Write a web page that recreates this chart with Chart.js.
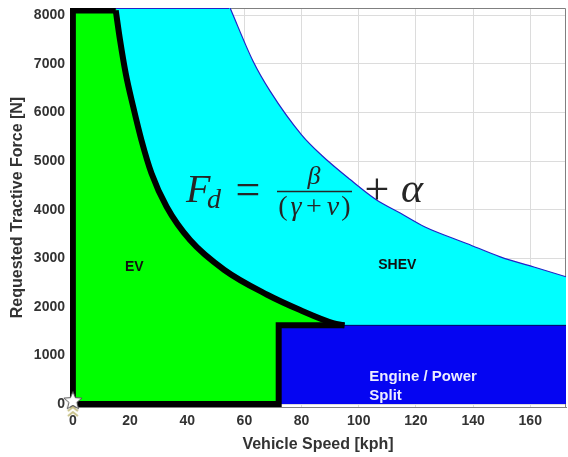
<!DOCTYPE html>
<html><head><meta charset="utf-8">
<script src="https://cdn.jsdelivr.net/npm/chart.js@4"></script>
<style>html,body{margin:0;padding:0;background:#fff}#wrap{width:568px;height:457px}</style>
</head><body><div id="wrap"><canvas id="c" width="568" height="457"></canvas></div>
<script>
// ---- data ----
const xTicks = [0, 20, 40, 60, 80, 100, 120, 140, 160];
const yTicks = [0, 1000, 2000, 3000, 4000, 5000, 6000, 7000, 8000];

// EV boundary (thick black curve)
const evCapX = [0, 15];
const evCapY = 8100;
const evCurveX = [15, 16.5, 18.5, 21.1, 24, 27.5, 32.8, 41, 53, 68, 79.5, 91, 95];
const evCurveY = [8100, 7490, 6800, 6120, 5430, 4750, 4060, 3375, 2760, 2250, 1935, 1667, 1620];

// Engine / Power split block
const splitX = [72, 172.5];
const splitY = 1620;

// SHEV upper limit F_d = beta/(gamma+v)+alpha
const shevCapX = [0, 55];
const shevCapY = 8150;
const shevCurveX = [55, 63, 69, 80, 87, 97, 106, 114.5, 123, 138, 149.5, 161, 172.5];
const shevCurveY = [8150, 7060, 6440, 5540, 5120, 4620, 4210, 3930, 3650, 3300, 3030, 2825, 2620];

const startPoint = [0, 0];

const pts = (xs, ys) => xs.map((x, i) => ({x, y: Array.isArray(ys) ? ys[i] : ys}));
// cap block: top edge, then straight down to the axis so the fill joins the curve fill seamlessly
const capPts = (xs, y) => [{x: xs[0], y}, {x: xs[1], y}, {x: xs[1], y: 0}];

// star marker image
const starImg = document.createElement('canvas');
starImg.width = 26; starImg.height = 30;
(function(){
  const g = starImg.getContext('2d');
  g.strokeStyle = '#c9c28a'; g.lineWidth = 2;
  for (const dy of [18, 23]) {
    g.beginPath(); g.moveTo(8, dy + 4); g.lineTo(13, dy); g.lineTo(18, dy + 4); g.stroke();
  }
  const cx = 13, cy = 12, R = 9.5, r = 4.2;
  g.beginPath();
  for (let i = 0; i < 10; i++) {
    const a = -Math.PI / 2 + i * Math.PI / 5;
    const rad = i % 2 ? r : R;
    const px = cx + rad * Math.cos(a), py = cy + rad * Math.sin(a);
    i ? g.lineTo(px, py) : g.moveTo(px, py);
  }
  g.closePath();
  g.fillStyle = '#ffffff'; g.fill();
  g.strokeStyle = '#555'; g.lineWidth = 1; g.stroke();
})();

const blackOutline = [
  {x: evCurveX[evCurveX.length - 1], y: splitY},
  {x: splitX[0], y: splitY},
  {x: splitX[0], y: 0},
  {x: 0, y: 0},
  {x: 0, y: evCapY},
  {x: evCapX[1], y: evCapY}
];

const boxPlugin = {
  id: 'box',
  beforeDatasetsDraw(chart) {
    const {ctx, chartArea: a} = chart;
    ctx.save();
    ctx.strokeStyle = '#808080'; ctx.lineWidth = 1;
    ctx.beginPath();
    ctx.moveTo(a.left, a.top + 0.5); ctx.lineTo(a.right - 0.5, a.top + 0.5); ctx.lineTo(a.right - 0.5, a.bottom);
    ctx.stroke();
    ctx.restore();
  }
};

const textPlugin = {
  id: 'texts',
  afterDatasetsDraw(chart) {
    const {ctx} = chart;
    const xs = chart.scales.x, ys = chart.scales.y;
    ctx.save();
    ctx.textBaseline = 'middle';
    ctx.font = 'bold 14px "Liberation Sans", Arial, sans-serif';
    ctx.fillStyle = '#111';
    ctx.textAlign = 'center';
    ctx.fillText('EV', xs.getPixelForValue(21.5), ys.getPixelForValue(2810));
    ctx.fillText('SHEV', xs.getPixelForValue(113.5), ys.getPixelForValue(2850));
    ctx.font = 'bold 15px "Liberation Sans", Arial, sans-serif';
    ctx.fillStyle = '#ececff';
    ctx.textAlign = 'left';
    ctx.fillText('Engine / Power', xs.getPixelForValue(103.7), ys.getPixelForValue(560));
    ctx.fillText('Split', xs.getPixelForValue(103.7), ys.getPixelForValue(165));

    // formula
    ctx.fillStyle = '#262626';
    ctx.textBaseline = 'alphabetic';
    ctx.textAlign = 'left';
    const serif = '"Liberation Serif", "DejaVu Serif", serif';
    ctx.font = 'italic 40px ' + serif; ctx.fillText('F', 186, 202);
    ctx.font = 'italic 28px ' + serif; ctx.fillText('d', 207, 208);
    ctx.textAlign = 'center';
    ctx.font = '44px ' + serif; ctx.fillText('=', 248, 204);
    ctx.font = 'italic 26px ' + serif; ctx.fillText('\u03B2', 314, 184);
    ctx.strokeStyle = '#262626'; ctx.lineWidth = 1.3;
    ctx.beginPath(); ctx.moveTo(277, 191.5); ctx.lineTo(352, 191.5); ctx.stroke();
    ctx.font = '28px ' + serif; ctx.fillText('(', 283, 215);
    ctx.font = 'italic 28px ' + serif; ctx.fillText('\u03B3', 296, 215);
    ctx.font = '28px ' + serif; ctx.fillText('+', 314, 215);
    ctx.font = 'italic 28px ' + serif; ctx.fillText('v', 333, 215);
    ctx.font = '28px ' + serif; ctx.fillText(')', 346, 215);
    ctx.font = '44px ' + serif; ctx.fillText('+', 377, 204);
    ctx.font = 'italic 42px ' + serif; ctx.fillText('\u03B1', 412, 202);
    ctx.restore();
  }
};

const tickFont = {family: '"Liberation Sans", Arial, sans-serif', size: 14, weight: 'bold'};
const titleFont = {family: '"Liberation Sans", Arial, sans-serif', size: 16, weight: 'bold'};
const CYAN = '#00ffff', GREEN = '#00ff00', EDGE = '#2222c8';

new Chart(document.getElementById('c'), {
  type: 'scatter',
  data: {
    datasets: [
      { // 0 start star
        data: [{x: startPoint[0], y: startPoint[1]}],
        pointStyle: starImg, pointRadius: 10, showLine: false, clip: false
      },
      { // 1 black straight outline
        data: blackOutline, showLine: true, borderColor: '#000', borderWidth: 6,
        borderJoinStyle: 'miter', pointRadius: 0, fill: false, tension: 0
      },
      { // 2 black EV curve
        data: pts(evCurveX, evCurveY), showLine: true, borderColor: '#000', borderWidth: 6,
        pointRadius: 0, fill: false, cubicInterpolationMode: 'monotone'
      },
      { // 3 engine / power split block
        data: pts(splitX, splitY), showLine: true, borderColor: '#000060', borderWidth: 1,
        backgroundColor: '#0505f2', fill: 'origin', pointRadius: 0
      },
      { // 4 EV green under curve
        data: pts(evCurveX, evCurveY), showLine: true, borderWidth: 0, borderColor: 'rgba(0,0,0,0)',
        backgroundColor: GREEN, fill: 'origin', pointRadius: 0, cubicInterpolationMode: 'monotone'
      },
      { // 5 EV green cap
        data: capPts(evCapX, evCapY), showLine: true, borderWidth: 2, borderColor: GREEN,
        backgroundColor: GREEN, fill: 'origin', pointRadius: 0
      },
      { // 6 SHEV curve
        data: pts(shevCurveX, shevCurveY), showLine: true, borderColor: EDGE, borderWidth: 1.2,
        backgroundColor: CYAN, fill: 'origin', pointRadius: 0, cubicInterpolationMode: 'monotone'
      },
      { // 7 SHEV cap
        data: capPts(shevCapX, shevCapY), showLine: true, borderWidth: 2,
        segment: {borderColor: c => (c.p0.parsed.x === c.p1.parsed.x ? CYAN : EDGE)},
        borderColor: EDGE, backgroundColor: CYAN, fill: 'origin', pointRadius: 0
      }
    ]
  },
  options: {
    responsive: false,
    animation: false,
    devicePixelRatio: 1,
    layout: {autoPadding: false, padding: {top: 8, right: 2, left: 0, bottom: 0}},
    plugins: {legend: {display: false}, tooltip: {enabled: false}},
    scales: {
      x: {
        type: 'linear', min: -1, max: 172.5,
        afterBuildTicks: s => { s.ticks = xTicks.map(v => ({value: v})); },
        afterFit: s => { s.height = 50; s.paddingLeft = 0; s.paddingRight = 0; },
        ticks: {font: tickFont, color: '#333', padding: 6, maxRotation: 0, autoSkip: false, callback: v => String(v)},
        grid: {color: '#dcdcdc', drawTicks: false},
        border: {display: true, color: '#808080'},
        title: {display: true, text: 'Vehicle Speed [kph]', font: titleFont, color: '#333', padding: {top: 0, bottom: 3}}
      },
      y: {
        type: 'linear', min: -60, max: 8150,
        afterBuildTicks: s => { s.ticks = yTicks.map(v => ({value: v})); },
        afterFit: s => { s.width = 70; s.paddingTop = 0; s.paddingBottom = 0; },
        ticks: {font: tickFont, color: '#333', padding: 5, autoSkip: false, callback: v => String(v)},
        grid: {color: '#dcdcdc', drawTicks: false},
        border: {display: true, color: '#808080'},
        title: {display: true, text: 'Requested Tractive Force [N]', font: titleFont, color: '#333', padding: {top: 8, bottom: 0}}
      }
    }
  },
  plugins: [boxPlugin, textPlugin]
});
</script>
</body></html>
